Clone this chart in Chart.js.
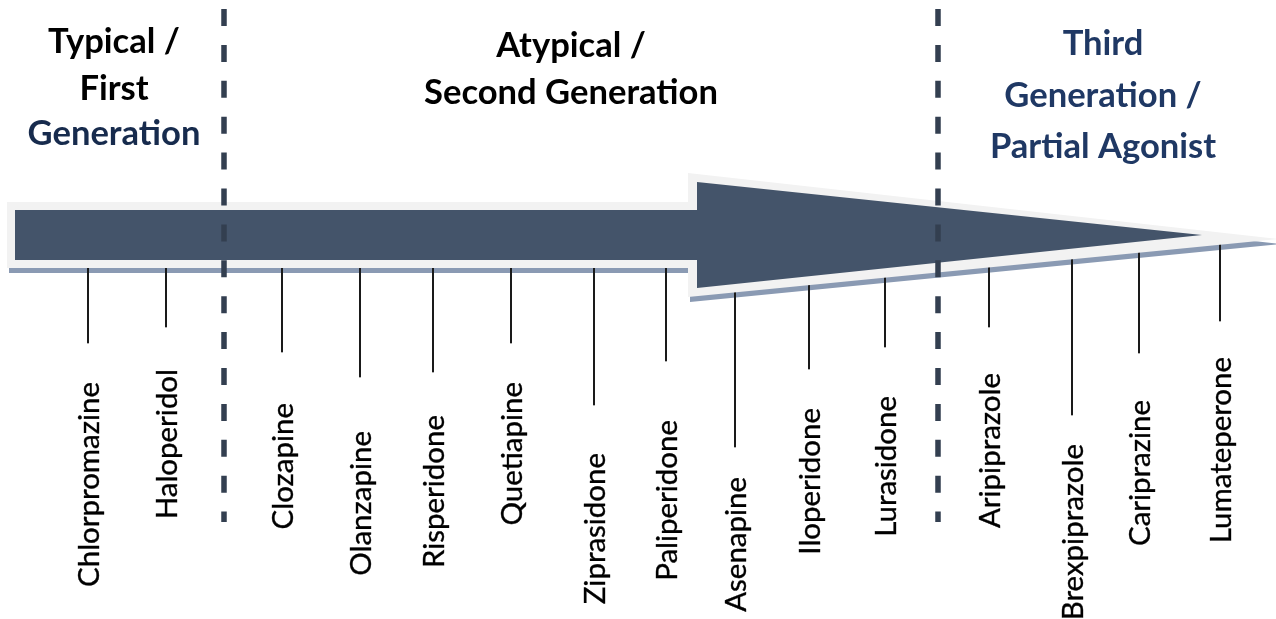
<!DOCTYPE html>
<html>
<head>
<meta charset="utf-8">
<title>Antipsychotic generations timeline</title>
<script src="https://cdn.jsdelivr.net/npm/chart.js@4.4.1/dist/chart.umd.min.js"></script>
<style>
  html, body { margin: 0; padding: 0; background: #ffffff; }
  #wrap { width: 1276px; height: 619px; position: relative; }
</style>
</head>
<body>
<div id="wrap"><canvas id="timeline"></canvas></div>
<script>
// ---- data -------------------------------------------------------------
const drugs = [
  'Chlorpromazine', 'Haloperidol', 'Clozapine', 'Olanzapine', 'Risperidone',
  'Quetiapine', 'Ziprasidone', 'Paliperidone', 'Asenapine', 'Iloperidone',
  'Lurasidone', 'Aripiprazole', 'Brexpiprazole', 'Cariprazine', 'Lumateperone'
];
// position of each drug along the timeline (x units)
const timelinePos = [88, 166, 282, 360, 433, 511, 594, 666, 735, 809, 885, 989, 1072, 1139, 1220];
// depth reached by each drug's leader line (y units, downward)
const stemEnd = [343, 327, 352, 377, 372, 343, 405, 361, 447, 369, 347, 327, 415, 353, 321];
// depth at which each drug name ends (y units)
const labelTop = [382, 369, 403, 431, 415, 382, 453, 420, 477, 408, 396, 373, 444, 400, 357];
// era boundaries along the timeline (x units)
const eraDividers = [224, 938];
// era headings, one entry per line
const eraNames = [
  ['Typical /', 'First', 'Generation'],
  ['Atypical /', 'Second Generation'],
  ['Third', 'Generation /', 'Partial Agonist']
];

// ---- layout & style ---------------------------------------------------
const X_MAX = 1276, Y_MAX = 619;
const AXIS_Y = 235;
const headingLayout = [
  { cx: 114, baselines: [53, 100, 145], colors: ['#000000', '#000000', '#172b4d'] },
  { cx: 571, baselines: [57, 104], colors: ['#000000', '#000000'] },
  { cx: 1103, baselines: [55, 107, 158], colors: ['#1f3864', '#1f3864', '#1f3864'] }
];
const COLORS = {
  inner: '#44546a',
  outline: '#f2f2f2',
  shadow: '#8a9ab3',
  divider: '#333f50',
  stem: '#1a1a1a',
  label: '#000000'
};
const FONT = 'Lato, "Open Sans", sans-serif';

// block arrow outline built from its proportions
function arrowShape(g, dx = 0, dy = 0) {
  return [
    { x: g.start + dx, y: AXIS_Y - g.shaftHalf + dy },
    { x: g.head + dx,  y: AXIS_Y - g.shaftHalf + dy },
    { x: g.head + dx,  y: AXIS_Y - g.headHalf + dy },
    { x: g.tip + dx,   y: g.tipY + dy },
    { x: g.head + dx,  y: AXIS_Y + g.headHalf + dy },
    { x: g.head + dx,  y: AXIS_Y + g.shaftHalf + dy },
    { x: g.start + dx, y: AXIS_Y + g.shaftHalf + dy }
  ];
}
const outerArrow = { start: 7, head: 688, tip: 1278, tipY: 239, shaftHalf: 33, headHalf: 62 };
const innerArrow = { start: 15, head: 697, tip: 1202, tipY: 235, shaftHalf: 25, headHalf: 53 };

// font sizes fitted to the heading / label extents
const measureCtx = document.createElement('canvas').getContext('2d');
function fitSize(text, weight, target) {
  measureCtx.font = `${weight} 100px ${FONT}`;
  return 100 * target / measureCtx.measureText(text).width;
}
const titleSize = fitSize('Second Generation', 'bold', 294);
const labelSize = fitSize('Chlorpromazine', 'normal', 205);

function polygonDataset(points, color, order) {
  return {
    type: 'scatter', data: points, showLine: true, fill: 'shape',
    backgroundColor: color, borderColor: color, borderWidth: 0,
    pointRadius: 0, tension: 0, order
  };
}

const annotations = {
  id: 'annotations',
  afterDatasetsDraw(chart) {
    const { ctx, scales: { x, y } } = chart;
    ctx.save();
    // era headings
    ctx.textAlign = 'center';
    ctx.textBaseline = 'alphabetic';
    ctx.font = `bold ${titleSize}px ${FONT}`;
    eraNames.forEach((lines, g) => {
      const lay = headingLayout[g];
      lines.forEach((line, k) => {
        ctx.fillStyle = lay.colors[k];
        ctx.fillText(line, x.getPixelForValue(lay.cx), y.getPixelForValue(lay.baselines[k]));
      });
    });
    // rotated drug names
    ctx.font = `${labelSize}px ${FONT}`;
    ctx.fillStyle = COLORS.label;
    ctx.strokeStyle = COLORS.label;
    ctx.lineWidth = 0.35;
    ctx.textAlign = 'right';
    drugs.forEach((name, i) => {
      const px = x.getPixelForValue(timelinePos[i]) + labelSize * 0.36;
      const py = y.getPixelForValue(labelTop[i]);
      ctx.save();
      ctx.translate(px, py);
      ctx.rotate(-Math.PI / 2);
      ctx.fillText(name, 0, 0);
      ctx.strokeText(name, 0, 0);
      ctx.restore();
    });
    ctx.restore();
  }
};

const datasets = [
  // era dividers
  ...eraDividers.map(d => ({
    type: 'scatter',
    data: [{ x: d, y: 9 }, { x: d, y: 522 }],
    showLine: true, borderColor: COLORS.divider, borderWidth: 5.5,
    borderDash: [17, 18.9], borderCapStyle: 'butt',
    pointRadius: 0, fill: false, order: 1
  })),
  polygonDataset(arrowShape(innerArrow), COLORS.inner, 2),
  polygonDataset(arrowShape(outerArrow), COLORS.outline, 3),
  // leader lines from the arrow to each drug
  {
    type: 'bar',
    data: timelinePos.map((p, i) => ({ x: p, y: [AXIS_Y, stemEnd[i]] })),
    backgroundColor: COLORS.stem, borderWidth: 0,
    barThickness: 1.4, grouped: false, order: 4
  },
  polygonDataset(arrowShape(outerArrow, 2, 5), COLORS.shadow, 5)
];

new Chart(document.getElementById('timeline'), {
  type: 'scatter',
  data: { datasets },
  options: {
    responsive: true,
    maintainAspectRatio: false,
    animation: false,
    events: [],
    layout: { padding: 0 },
    plugins: { legend: { display: false }, tooltip: { enabled: false } },
    scales: {
      x: { type: 'linear', min: 0, max: X_MAX, display: false, offset: false },
      y: { type: 'linear', min: 0, max: Y_MAX, reverse: true, display: false }
    }
  },
  plugins: [annotations]
});
</script>
</body>
</html>
